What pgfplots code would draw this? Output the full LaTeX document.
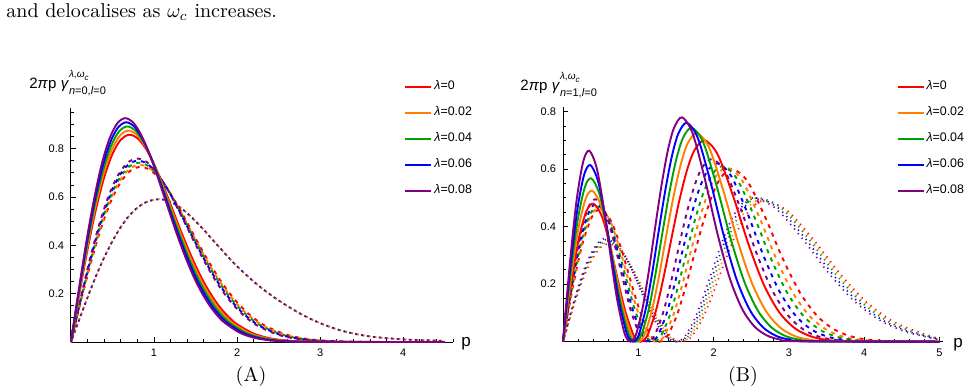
\documentclass[border=0pt]{standalone}
\usepackage{fontspec}
\usepackage{pgfplots}
\usepackage{pgfplotstable}
\pgfplotsset{compat=1.18}
\newfontfamily\arial{Liberation Sans}
\definecolor{cR}{rgb}{1,0,0}
\definecolor{cO}{rgb}{1,0.5,0}
\definecolor{cG}{rgb}{0,0.63,0}
\definecolor{cB}{rgb}{0,0,1}
\definecolor{cP}{rgb}{0.5,0,0.5}

\pgfplotstableread{
p f
0 0
0.1 0.094
0.2 0.185
0.3 0.272
0.4 0.350
0.5 0.418
0.6 0.476
0.7 0.522
0.8 0.556
0.9 0.578
1.0 0.589
1.1 0.590
1.2 0.580
1.3 0.560
1.4 0.533
1.5 0.500
1.6 0.464
1.7 0.425
1.8 0.387
1.9 0.349
2.0 0.313
2.2 0.250
2.4 0.196
2.6 0.150
2.8 0.110
3.0 0.078
3.2 0.053
3.4 0.035
3.6 0.023
3.8 0.016
4.0 0.011
4.2 0.008
4.4 0.006
4.5 0.005
}\dottedA

\pgfplotsset{
  mmaaxis/.style={
    scale only axis, axis lines=middle, axis line style={-, line width=0.5pt},
    xmin=0, ymin=0, clip=false,
    tick align=inside, major tick length=2.6pt, minor tick length=1.5pt,
    every tick/.style={line width=0.4pt, black},
    /pgf/number format/assume math mode=true,
    ticklabel style={font=\arial\fontsize{5.5}{6}\selectfont},
    legend cell align=left,
    legend style={draw=none, fill=none, font=\arial\fontsize{6.2}{7}\selectfont,
      anchor=north west, inner sep=0pt, row sep=5pt, nodes={inner sep=1pt}},
    legend image code/.code={\draw[#1, solid, line width=1pt] (0pt,0pt) -- (13pt,0pt);},
  },
  ls/.style={line width=0.95pt, smooth},
  ld/.style={line width=0.95pt, smooth, dash pattern=on 2pt off 2.5pt, dash phase=#1},
  lt/.style={line width=0.85pt, smooth, dash pattern=on 0.6pt off 2.4pt, dash phase=#1},
}

\begin{document}
\begin{tikzpicture}
\path[use as bounding box] (0,0) rectangle (487pt,-195.5pt);
\node[anchor=base west, inner sep=0pt, font=\fontsize{10}{12}\selectfont] at (3pt,-9pt) {and delocalises as $\omega_c$ increases.};

% ---------------- Panel A ----------------
\begin{axis}[mmaaxis, at={(35.5pt,-171pt)}, anchor=south west,
  width=191pt, height=117.2pt, xmax=4.6, ymax=0.97,
  xtick={1,2,3,4}, ytick={0.2,0.4,0.6,0.8},
  minor xtick={0,0.2,...,4.6}, minor ytick={0,0.05,...,0.95},
  legend style={at={(0.872,1.124)}}]
% dotted
\addplot[cR, lt=0pt, forget plot] table[x=p,y=f] {\dottedA};
\addplot[cO, lt=0.3pt, forget plot] table[x=p,y=f] {\dottedA};
\addplot[cG, lt=0.6pt, forget plot] table[x=p,y=f] {\dottedA};
\addplot[cB, lt=0.9pt, forget plot] table[x=p,y=f] {\dottedA};
\addplot[cP, lt=1.2pt, forget plot] table[x=p,y=f] {\dottedA};
% dashed
\addplot[cR, ld=0pt, forget plot] coordinates {(0,0) (0.118,0.1673) (0.237,0.3247) (0.355,0.4634) (0.473,0.5760) (0.592,0.6581) (0.710,0.7074) (0.828,0.7248) (0.947,0.7129) (1.065,0.6766) (1.183,0.6218) (1.302,0.5543) (1.420,0.4805) (1.538,0.4053) (1.657,0.3333) (1.775,0.2672) (1.893,0.2091) (2.012,0.1597) (2.130,0.1191) (2.249,0.0869) (2.367,0.0619) (2.604,0.0294) (2.840,0.0128) (3.077,0.0051) (3.314,0.0019) (3.550,0.0006) (3.905,0.0001) (4.5,0)};
\addplot[cO, ld=0.9pt, forget plot] coordinates {(0,0) (0.117,0.1693) (0.234,0.3286) (0.351,0.4689) (0.468,0.5829) (0.585,0.6659) (0.702,0.7158) (0.819,0.7333) (0.936,0.7214) (1.053,0.6846) (1.170,0.6291) (1.287,0.5609) (1.404,0.4862) (1.520,0.4101) (1.637,0.3372) (1.754,0.2704) (1.871,0.2115) (1.988,0.1616) (2.105,0.1206) (2.222,0.0879) (2.339,0.0627) (2.573,0.0298) (2.807,0.0129) (3.041,0.0051) (3.275,0.0019) (3.509,0.0006) (3.860,0.0001) (4.5,0)};
\addplot[cG, ld=1.8pt, forget plot] coordinates {(0,0) (0.116,0.1713) (0.231,0.3324) (0.347,0.4744) (0.462,0.5897) (0.578,0.6737) (0.694,0.7242) (0.809,0.7419) (0.925,0.7298) (1.040,0.6926) (1.156,0.6365) (1.272,0.5674) (1.387,0.4918) (1.503,0.4149) (1.618,0.3412) (1.734,0.2735) (1.850,0.2140) (1.965,0.1635) (2.081,0.1220) (2.197,0.0889) (2.312,0.0634) (2.543,0.0301) (2.775,0.0131) (3.006,0.0052) (3.237,0.0019) (3.468,0.0006) (3.815,0.0001) (4.5,0)};
\addplot[cB, ld=2.7pt, forget plot] coordinates {(0,0) (0.114,0.1733) (0.229,0.3363) (0.343,0.4799) (0.457,0.5965) (0.571,0.6815) (0.686,0.7326) (0.800,0.7505) (0.914,0.7382) (1.029,0.7006) (1.143,0.6438) (1.257,0.5740) (1.371,0.4975) (1.486,0.4197) (1.600,0.3451) (1.714,0.2767) (1.829,0.2165) (1.943,0.1654) (2.057,0.1234) (2.171,0.0900) (2.286,0.0641) (2.514,0.0305) (2.743,0.0132) (2.971,0.0053) (3.200,0.0019) (3.429,0.0006) (3.771,0.0001) (4.5,0)};
\addplot[cP, ld=3.6pt, forget plot] coordinates {(0,0) (0.113,0.1752) (0.226,0.3401) (0.339,0.4853) (0.452,0.6033) (0.565,0.6892) (0.678,0.7409) (0.791,0.7591) (0.904,0.7467) (1.017,0.7086) (1.130,0.6512) (1.243,0.5806) (1.356,0.5032) (1.469,0.4245) (1.582,0.3490) (1.695,0.2798) (1.808,0.2189) (1.921,0.1673) (2.034,0.1248) (2.147,0.0910) (2.260,0.0649) (2.486,0.0308) (2.712,0.0134) (2.938,0.0053) (3.164,0.0019) (3.390,0.0006) (3.729,0.0001) (4.5,0)};
% solid
\addplot[cR, ls] coordinates {(0,0) (0.1,0.1980) (0.2,0.3843) (0.3,0.5484) (0.4,0.6817) (0.5,0.7788) (0.6,0.8372) (0.7,0.8577) (0.8,0.8437) (0.9,0.8007) (1.0,0.7358) (1.1,0.6560) (1.2,0.5686) (1.3,0.4797) (1.4,0.3944) (1.5,0.3162) (1.6,0.2474) (1.7,0.1890) (1.8,0.1410) (1.9,0.1028) (2.0,0.0733) (2.2,0.0348) (2.4,0.0151) (2.6,0.0060) (2.8,0.0022) (3.0,0.0007) (3.3,0) (4.5,0)};
\addlegendentry{\textit{λ}=0}
\addplot[cO, ls] coordinates {(0,0) (0.098,0.2020) (0.196,0.3920) (0.294,0.5594) (0.392,0.6953) (0.490,0.7944) (0.588,0.8539) (0.686,0.8749) (0.784,0.8606) (0.882,0.8167) (0.980,0.7505) (1.078,0.6691) (1.176,0.5800) (1.275,0.4893) (1.373,0.4023) (1.471,0.3225) (1.569,0.2523) (1.667,0.1928) (1.765,0.1438) (1.863,0.1049) (1.961,0.0748) (2.157,0.0355) (2.353,0.0154) (2.549,0.0061) (2.745,0.0022) (2.941,0.0007) (3.235,0) (4.5,0)};
\addlegendentry{\textit{λ}=0.02}
\addplot[cG, ls] coordinates {(0,0) (0.096,0.2059) (0.192,0.3997) (0.288,0.5703) (0.385,0.7090) (0.481,0.8100) (0.577,0.8707) (0.673,0.8920) (0.769,0.8774) (0.865,0.8327) (0.962,0.7652) (1.058,0.6822) (1.154,0.5913) (1.250,0.4989) (1.346,0.4102) (1.442,0.3288) (1.538,0.2573) (1.635,0.1966) (1.731,0.1466) (1.827,0.1069) (1.923,0.0762) (2.115,0.0362) (2.308,0.0157) (2.500,0.0062) (2.692,0.0023) (2.885,0.0007) (3.173,0) (4.5,0)};
\addlegendentry{\textit{λ}=0.04}
\addplot[cB, ls] coordinates {(0,0) (0.094,0.2099) (0.189,0.4074) (0.283,0.5813) (0.377,0.7226) (0.472,0.8255) (0.566,0.8874) (0.660,0.9092) (0.755,0.8943) (0.849,0.8487) (0.943,0.7799) (1.038,0.6954) (1.132,0.6027) (1.226,0.5085) (1.321,0.4181) (1.415,0.3352) (1.509,0.2622) (1.604,0.2003) (1.698,0.1495) (1.792,0.1090) (1.887,0.0777) (2.075,0.0369) (2.264,0.0160) (2.453,0.0064) (2.642,0.0023) (2.830,0.0007) (3.113,0) (4.5,0)};
\addlegendentry{\textit{λ}=0.06}
\addplot[cP, ls] coordinates {(0,0) (0.093,0.2138) (0.185,0.4150) (0.278,0.5923) (0.370,0.7362) (0.463,0.8411) (0.556,0.9042) (0.648,0.9263) (0.741,0.9112) (0.833,0.8648) (0.926,0.7947) (1.019,0.7085) (1.111,0.6141) (1.204,0.5181) (1.296,0.4260) (1.389,0.3415) (1.481,0.2672) (1.574,0.2041) (1.667,0.1523) (1.759,0.1110) (1.852,0.0792) (2.037,0.0376) (2.222,0.0163) (2.407,0.0065) (2.593,0.0024) (2.778,0.0008) (3.056,0) (4.5,0)};
\addlegendentry{\textit{λ}=0.08}
\end{axis}

% ---------------- Panel B ----------------
\begin{axis}[mmaaxis, at={(281.5pt,-170.85pt)}, anchor=south west,
  width=190.15pt, height=117.5pt, xmax=5.05, ymax=0.817,
  xtick={1,2,3,4,5}, ytick={0.2,0.4,0.6,0.8},
  minor xtick={0,0.2,...,5}, minor ytick={0,0.05,...,0.8},
  legend style={at={(0.876,1.12)}}]
% dotted
\addplot[cR, lt=0pt, forget plot] coordinates {(0,0) (0.158,0.1370) (0.316,0.2501) (0.474,0.3206) (0.616,0.34) (0.79,0.3093) (0.948,0.2421) (1.106,0.1575) (1.264,0.0772) (1.422,0.0204) (1.501,0.0052) (1.58,0) (1.646,0.0050) (1.713,0.0200) (1.845,0.0760) (1.978,0.1578) (2.11,0.2511) (2.243,0.3414) (2.375,0.4159) (2.508,0.4664) (2.68,0.49) (2.978,0.4556) (3.328,0.3544) (3.678,0.2368) (4.028,0.1382) (4.378,0.0712) (4.728,0.0327) (5,0.010)};
\addplot[cO, lt=0.3pt, forget plot] coordinates {(0,0) (0.156,0.1390) (0.312,0.2537) (0.468,0.3253) (0.608,0.345) (0.78,0.3138) (0.936,0.2456) (1.092,0.1598) (1.248,0.0783) (1.404,0.0207) (1.482,0.0052) (1.56,0) (1.625,0.0051) (1.690,0.0202) (1.820,0.0768) (1.950,0.1594) (2.080,0.2537) (2.211,0.3449) (2.341,0.4202) (2.471,0.4711) (2.64,0.495) (2.938,0.4603) (3.288,0.3580) (3.638,0.2392) (3.988,0.1396) (4.338,0.0720) (4.688,0.0331) (5,0.009)};
\addplot[cG, lt=0.6pt, forget plot] coordinates {(0,0) (0.154,0.1411) (0.308,0.2574) (0.462,0.3301) (0.601,0.35) (0.77,0.3184) (0.924,0.2492) (1.078,0.1622) (1.232,0.0795) (1.386,0.0210) (1.463,0.0053) (1.54,0) (1.604,0.0052) (1.668,0.0204) (1.795,0.0776) (1.923,0.1611) (2.051,0.2563) (2.179,0.3484) (2.306,0.4244) (2.434,0.4759) (2.60,0.50) (2.898,0.4649) (3.248,0.3617) (3.598,0.2416) (3.948,0.1410) (4.298,0.0727) (4.648,0.0334) (5,0.009)};
\addplot[cB, lt=0.9pt, forget plot] coordinates {(0,0) (0.152,0.1431) (0.304,0.2611) (0.456,0.3348) (0.593,0.355) (0.76,0.3229) (0.912,0.2528) (1.064,0.1645) (1.216,0.0806) (1.368,0.0213) (1.444,0.0054) (1.52,0) (1.583,0.0052) (1.645,0.0204) (1.771,0.0776) (1.896,0.1611) (2.021,0.2563) (2.147,0.3484) (2.272,0.4244) (2.397,0.4759) (2.56,0.50) (2.858,0.4649) (3.208,0.3617) (3.558,0.2416) (3.908,0.1410) (4.258,0.0727) (4.608,0.0334) (5,0.008)};
\addplot[cP, lt=1.2pt, forget plot] coordinates {(0,0) (0.15,0.1451) (0.30,0.2648) (0.45,0.3395) (0.585,0.36) (0.75,0.3275) (0.90,0.2563) (1.05,0.1668) (1.20,0.0817) (1.35,0.0216) (1.425,0.0055) (1.50,0) (1.561,0.0052) (1.623,0.0204) (1.746,0.0776) (1.869,0.1611) (1.992,0.2563) (2.115,0.3484) (2.237,0.4244) (2.36,0.4759) (2.52,0.50) (2.818,0.4649) (3.168,0.3617) (3.518,0.2416) (3.868,0.1410) (4.218,0.0727) (4.568,0.0334) (5,0.007)};
% dashed
\addplot[cR, ld=0pt, forget plot] coordinates {(0,0) (0.128,0.1854) (0.256,0.3383) (0.384,0.4338) (0.499,0.46) (0.64,0.4185) (0.768,0.3275) (0.896,0.2131) (1.024,0.1044) (1.152,0.0276) (1.216,0.0070) (1.28,0) (1.338,0.0062) (1.397,0.0245) (1.514,0.0931) (1.631,0.1933) (1.748,0.3075) (1.865,0.4180) (1.981,0.5093) (2.098,0.5711) (2.25,0.60) (2.449,0.5579) (2.683,0.4340) (2.916,0.2899) (3.150,0.1692) (3.384,0.0872) (3.618,0.0401) (3.852,0.0165) (4.085,0.0061) (4.436,0.0011) (5,0)};
\addplot[cO, ld=0.9pt, forget plot] coordinates {(0,0) (0.124,0.1874) (0.248,0.3420) (0.372,0.4385) (0.484,0.465) (0.62,0.4230) (0.744,0.3311) (0.868,0.2154) (0.992,0.1056) (1.116,0.0279) (1.178,0.0071) (1.24,0) (1.297,0.0062) (1.353,0.0247) (1.467,0.0939) (1.580,0.1949) (1.693,0.3101) (1.807,0.4215) (1.920,0.5135) (2.033,0.5758) (2.18,0.605) (2.373,0.5625) (2.599,0.4376) (2.826,0.2923) (3.052,0.1706) (3.279,0.0880) (3.506,0.0404) (3.732,0.0166) (3.959,0.0062) (4.299,0.0011) (5,0)};
\addplot[cG, ld=1.8pt, forget plot] coordinates {(0,0) (0.12,0.1894) (0.24,0.3457) (0.36,0.4432) (0.468,0.47) (0.6,0.4276) (0.72,0.3346) (0.84,0.2178) (0.96,0.1067) (1.08,0.0282) (1.14,0.0071) (1.2,0) (1.255,0.0063) (1.311,0.0249) (1.422,0.0947) (1.532,0.1965) (1.643,0.3126) (1.754,0.4250) (1.865,0.5178) (1.976,0.5806) (2.12,0.61) (2.308,0.5672) (2.530,0.4412) (2.752,0.2948) (2.973,0.1720) (3.195,0.0887) (3.416,0.0407) (3.638,0.0168) (3.860,0.0062) (4.192,0.0012) (5,0)};
\addplot[cB, ld=2.7pt, forget plot] coordinates {(0,0) (0.116,0.1934) (0.232,0.3530) (0.348,0.4526) (0.452,0.48) (0.58,0.4367) (0.696,0.3418) (0.812,0.2224) (0.928,0.1090) (1.044,0.0288) (1.102,0.0073) (1.16,0) (1.214,0.0064) (1.267,0.0253) (1.374,0.0962) (1.482,0.1997) (1.589,0.3178) (1.696,0.4320) (1.803,0.5263) (1.910,0.5901) (2.05,0.62) (2.232,0.5765) (2.447,0.4484) (2.661,0.2996) (2.875,0.1748) (3.090,0.0901) (3.304,0.0414) (3.519,0.0171) (3.733,0.0063) (4.055,0.0012) (5,0)};
\addplot[cP, ld=3.6pt, forget plot] coordinates {(0,0) (0.112,0.1995) (0.224,0.3641) (0.336,0.4668) (0.437,0.495) (0.56,0.4503) (0.672,0.3524) (0.784,0.2293) (0.896,0.1124) (1.008,0.0297) (1.064,0.0075) (1.12,0) (1.172,0.0065) (1.224,0.0259) (1.327,0.0986) (1.431,0.2045) (1.534,0.3254) (1.638,0.4424) (1.742,0.5390) (1.845,0.6044) (1.98,0.635) (2.156,0.5904) (2.363,0.4593) (2.571,0.3068) (2.778,0.1791) (2.985,0.0923) (3.192,0.0424) (3.399,0.0175) (3.607,0.0065) (3.917,0.0012) (5,0)};
% solid
\addplot[cR, ls] coordinates {(0,0) (0.103,0.1934) (0.206,0.3530) (0.309,0.4526) (0.402,0.48) (0.515,0.4367) (0.618,0.3418) (0.721,0.2224) (0.824,0.1090) (0.927,0.0288) (0.979,0.0073) (1.03,0) (1.081,0.0072) (1.132,0.0286) (1.235,0.1086) (1.337,0.2255) (1.440,0.3588) (1.542,0.4877) (1.644,0.5942) (1.747,0.6663) (1.88,0.70) (2.054,0.6509) (2.259,0.5063) (2.464,0.3382) (2.668,0.1974) (2.873,0.1018) (3.078,0.0468) (3.283,0.0193) (3.488,0.0071) (3.795,0.0013) (5,0)};
\addlegendentry{\textit{λ}=0}
\addplot[cO, ls] coordinates {(0,0) (0.0995,0.2116) (0.199,0.3861) (0.2985,0.4951) (0.388,0.525) (0.4975,0.4776) (0.597,0.3738) (0.6965,0.2432) (0.796,0.1192) (0.8955,0.0315) (0.945,0.0080) (0.995,0) (1.042,0.0075) (1.090,0.0296) (1.184,0.1125) (1.279,0.2335) (1.373,0.3716) (1.468,0.5051) (1.563,0.6154) (1.657,0.6901) (1.78,0.725) (1.941,0.6741) (2.130,0.5244) (2.319,0.3503) (2.508,0.2045) (2.698,0.1054) (2.887,0.0484) (3.076,0.0199) (3.265,0.0074) (3.549,0.0014) (5,0)};
\addlegendentry{\textit{λ}=0.02}
\addplot[cG, ls] coordinates {(0,0) (0.096,0.2289) (0.192,0.4178) (0.288,0.5356) (0.374,0.568) (0.48,0.5167) (0.576,0.4044) (0.672,0.2632) (0.768,0.1289) (0.864,0.0341) (0.912,0.0086) (0.96,0) (1.005,0.0077) (1.050,0.0304) (1.141,0.1155) (1.231,0.2396) (1.322,0.3813) (1.412,0.5183) (1.502,0.6315) (1.593,0.7081) (1.71,0.744) (1.864,0.6918) (2.044,0.5381) (2.225,0.3595) (2.406,0.2098) (2.587,0.1082) (2.768,0.0497) (2.948,0.0205) (3.129,0.0076) (3.400,0.0014) (5,0)};
\addlegendentry{\textit{λ}=0.04}
\addplot[cB, ls] coordinates {(0,0) (0.093,0.2474) (0.186,0.4516) (0.279,0.5790) (0.363,0.614) (0.465,0.5586) (0.558,0.4372) (0.651,0.2845) (0.744,0.1394) (0.837,0.0368) (0.884,0.0093) (0.93,0) (0.973,0.0078) (1.016,0.0310) (1.102,0.1181) (1.188,0.2451) (1.274,0.3900) (1.361,0.5302) (1.447,0.6459) (1.533,0.7243) (1.645,0.761) (1.791,0.7076) (1.964,0.5504) (2.136,0.3677) (2.308,0.2146) (2.480,0.1107) (2.652,0.0508) (2.825,0.0209) (2.997,0.0078) (3.255,0.0014) (5,0)};
\addlegendentry{\textit{λ}=0.06}
\addplot[cP, ls] coordinates {(0,0) (0.0895,0.2676) (0.179,0.4884) (0.2685,0.6262) (0.349,0.664) (0.4475,0.6040) (0.537,0.4728) (0.6265,0.3076) (0.716,0.1507) (0.8055,0.0398) (0.850,0.0101) (0.895,0) (0.936,0.0080) (0.978,0.0318) (1.06,0.1211) (1.143,0.2512) (1.225,0.3998) (1.308,0.5434) (1.39,0.6621) (1.473,0.7424) (1.58,0.78) (1.720,0.7252) (1.885,0.5642) (2.050,0.3769) (2.215,0.2200) (2.380,0.1134) (2.545,0.0521) (2.710,0.0215) (2.875,0.0080) (3.123,0.0015) (5,0)};
\addlegendentry{\textit{λ}=0.08}
\end{axis}

% labels
\node[anchor=base west, inner sep=0pt, font=\arial\fontsize{7.5}{9}\selectfont] at (14.5pt,-44pt)
 {2\textit{π}p\hspace{0.3em}\textit{γ}\rlap{\raisebox{0.72em}{\fontsize{5}{6}\selectfont\textit{λ},\textit{ω}\raisebox{-0.3em}{\fontsize{4}{5}\selectfont\textit{c}}}}\raisebox{-0.45em}{\fontsize{5.5}{6}\selectfont\textit{n}=0,\textit{l}=0}};
\node[anchor=base west, inner sep=0pt, font=\arial\fontsize{7.5}{9}\selectfont] at (260pt,-45pt)
 {2\textit{π}p\hspace{0.3em}\textit{γ}\rlap{\raisebox{0.72em}{\fontsize{5}{6}\selectfont\textit{λ},\textit{ω}\raisebox{-0.3em}{\fontsize{4}{5}\selectfont\textit{c}}}}\raisebox{-0.45em}{\fontsize{5.5}{6}\selectfont\textit{n}=1,\textit{l}=0}};
\node[anchor=base, inner sep=0pt, font=\arial\fontsize{8.5}{10}\selectfont] at (233pt,-173.3pt) {p};
\node[anchor=base, inner sep=0pt, font=\arial\fontsize{8.5}{10}\selectfont] at (479pt,-173.7pt) {p};
\node[anchor=base, inner sep=0pt, font=\fontsize{10}{12}\selectfont] at (125.5pt,-190.5pt) {(A)};
\node[anchor=base, inner sep=0pt, font=\fontsize{10}{12}\selectfont] at (371.5pt,-190.5pt) {(B)};
\end{tikzpicture}
\end{document}
